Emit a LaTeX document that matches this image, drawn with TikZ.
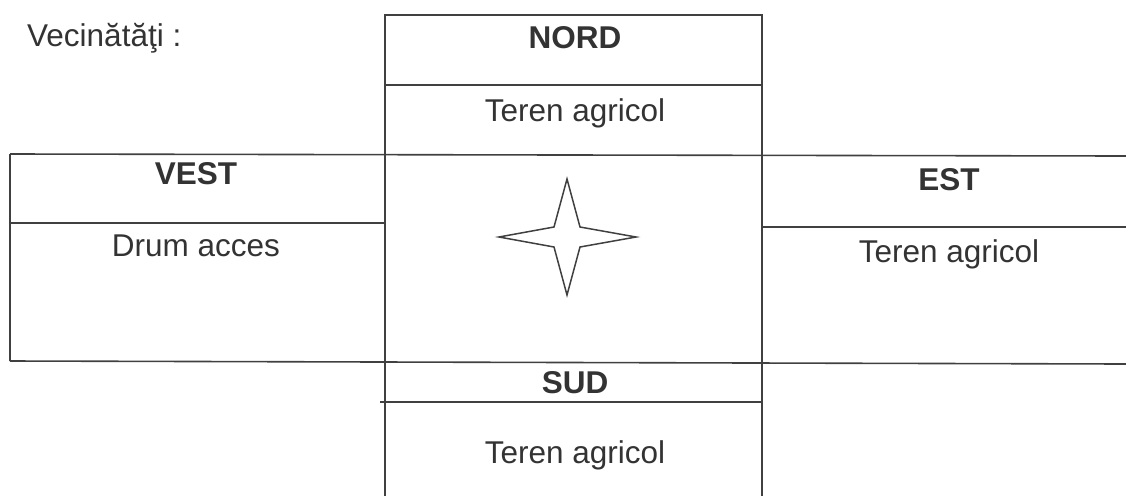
\documentclass[tikz,border=0pt]{standalone}
\usepackage{fontspec}
\setmainfont{Liberation Sans}
\begin{document}
\begin{tikzpicture}[x=1pt,y=-1pt,
  rule/.style={line width=1.6pt,draw=black!75},
  txt/.style={font=\fontsize{31.5}{38}\selectfont,text=black!80,inner sep=0pt,anchor=base},
  head/.style={txt,font=\fontsize{31.5}{38}\selectfont\bfseries}]
\useasboundingbox (0,0) rectangle (1126,496);
% lines
\draw[rule] (385,496) -- (385,15) -- (762,15) -- (762,496);
\draw[rule] (385,85) -- (762,85);
\draw[rule] (10,154) -- (1126,156);
\draw[rule] (10,154) -- (10,361);
\draw[rule] (10,223) -- (385,223);
\draw[rule] (762,227) -- (1126,227);
\draw[rule] (10,361) -- (1126,364);
\draw[rule] (380,402) -- (762,402);
% star
\draw[rule,line width=1.5pt,line join=miter]
  (567,179) -- (580,227) -- (636,237) -- (580,247) -- (567,295)
  -- (554,247) -- (499,237) -- (554,227) -- cycle;
% texts
\node[txt,anchor=base west] (vec) at (27,46) {Vecinătăţi :};
\node[head] (nord) at (575,48) {NORD};
\node[txt] (nordt) at (575,121) {Teren agricol};
\node[head] (vest) at (196,184) {VEST};
\node[txt] (vestt) at (196,256) {Drum acces};
\node[head] (est) at (949,190) {EST};
\node[txt] (estt) at (949,262) {Teren agricol};
\node[head] (sud) at (575,393) {SUD};
\node[txt] (sudt) at (575,463) {Teren agricol};
\end{tikzpicture}
\end{document}
